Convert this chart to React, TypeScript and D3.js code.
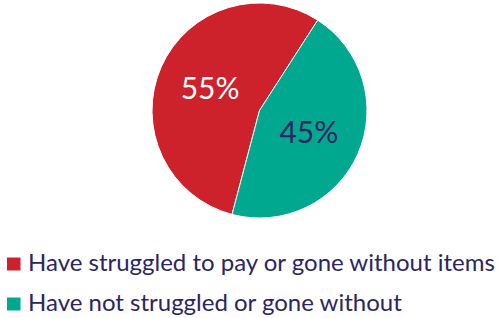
import { useEffect, useRef } from 'react'
import * as d3 from 'd3'

const categories = ['Have struggled to pay or gone without items', 'Have not struggled or gone without']
const values = [55, 45]
const labels = ['55%', '45%']
const colors = ['#CD212B', '#00A890']
const labelColors = ['#FFFFFF', '#2B2562']

const FONT = 'Lato, "Open Sans", sans-serif'

export default function App() {
  const svgRef = useRef<SVGSVGElement>(null)

  useEffect(() => {
    if (!svgRef.current) return
    const width = 498
    const height = 318
    const svg = d3.select(svgRef.current)
    svg.selectAll('*').remove()

    const cx = 259.5
    const cy = 110.5
    const radius = 107.5
    const start = (194.8 * Math.PI) / 180

    const data = categories.map((c, i) => ({ name: c, value: values[i], label: labels[i], i }))

    const pie = d3.pie<typeof data[number]>()
      .sort(null)
      .value(d => d.value)
      .startAngle(start)
      .endAngle(start + 2 * Math.PI)

    const arc = d3.arc<d3.PieArcDatum<typeof data[number]>>()
      .innerRadius(0)
      .outerRadius(radius)

    const labelArc = d3.arc<d3.PieArcDatum<typeof data[number]>>()
      .innerRadius(54)
      .outerRadius(54)

    const g = svg.append('g').attr('transform', `translate(${cx},${cy})`)
    const arcs = pie(data)

    g.selectAll('path')
      .data(arcs)
      .join('path')
      .attr('d', arc)
      .attr('fill', d => colors[d.data.i])
      .attr('stroke', '#ffffff')
      .attr('stroke-width', 1)

    g.selectAll('text')
      .data(arcs)
      .join('text')
      .attr('x', d => labelArc.centroid(d)[0])
      .attr('y', d => labelArc.centroid(d)[1])
      .attr('dy', '0.35em')
      .attr('text-anchor', 'middle')
      .attr('fill', d => labelColors[d.data.i])
      .attr('font-family', FONT)
      .attr('font-size', '30px')
      .text(d => d.data.label)

    // Legend
    const legend = svg.append('g')
    const rowY = d3.scalePoint<string>().domain(categories).range([271, 311])
    categories.forEach((c, i) => {
      const y = rowY(c)!
      legend.append('rect')
        .attr('x', 7)
        .attr('y', y - 13.5)
        .attr('width', 13.5)
        .attr('height', 13)
        .attr('fill', colors[i])
      legend.append('text')
        .attr('x', 28)
        .attr('y', y)
        .attr('fill', '#2B2562')
        .attr('font-family', FONT)
        .attr('font-size', '24px')
        .text(c)
    })

    svg.attr('width', width).attr('height', height)
  }, [])

  return (
    <svg
      ref={svgRef}
      width={498}
      height={318}
      style={{ position: 'absolute', left: 0, top: 0, background: '#ffffff' }}
    />
  )
}
